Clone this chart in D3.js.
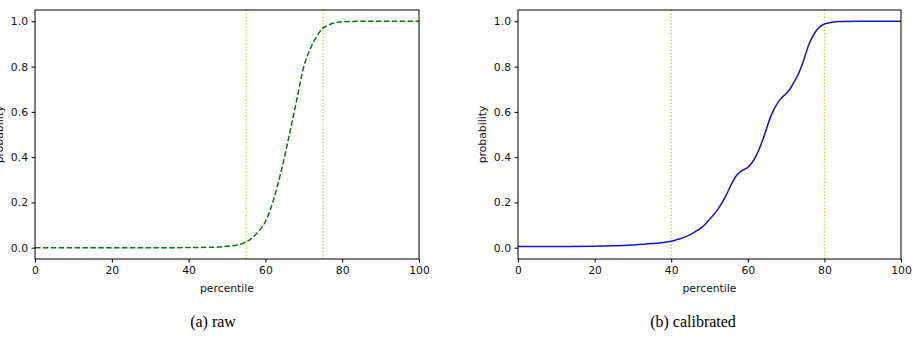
<!DOCTYPE html>
<html>
<head>
<meta charset="utf-8">
<script src="https://cdn.jsdelivr.net/npm/d3@7"></script>
<style>
body{margin:0;background:#fff;}
svg{display:block;}
.tick text{font-family:"DejaVu Sans";font-size:10.8px;fill:#111;}
.lbl{font-family:"DejaVu Sans";font-size:10.8px;fill:#111;}
.cap{font-family:"Liberation Serif";font-size:16px;fill:#000;}
</style>
</head>
<body>
<svg id="fig" width="914" height="340"></svg>
<script>
// raw scores (green dashed)
var rawX=[0,10,20,30,40,45,48,50,52,54,55,56,57,58,60,62,64,66,68,70,72,74,75,76,78,80,85,90,100]
var rawY=[0,0,0,0,0.0005,0.0015,0.003,0.006,0.01,0.018,0.026,0.036,0.05,0.068,0.115,0.205,0.33,0.48,0.64,0.80,0.89,0.95,0.97,0.98,0.993,0.998,1,1,1]
// calibrated scores (blue)
var calX=[0,10,20,25,30,35,40,42,44,46,48,50,52,54,56,57,58,59,60,62,64,66,68,69,70,71,72,73,74,75,76,77,78,79,80,82,84,90,100]
var calY=[0.005,0.005,0.006,0.008,0.012,0.018,0.028,0.038,0.05,0.068,0.09,0.125,0.165,0.22,0.29,0.318,0.335,0.345,0.355,0.40,0.48,0.58,0.645,0.665,0.68,0.70,0.73,0.76,0.80,0.85,0.90,0.935,0.962,0.978,0.988,0.996,0.999,1,1]
var rawCut=[55,75]
var calCut=[40,80]
var xTicks=[0,20,40,60,80,100]
var yTicks=[0,0.2,0.4,0.6,0.8,1.0]
var captions=['(a) raw','(b) calibrated']

var svg=d3.select('#fig')

function panel(conf){
    var g=svg.append('g')
    var x=d3.scaleLinear().domain([0,100]).range([conf.left,conf.right])
    var y=d3.scaleLinear().domain([-0.05,1.05]).range([conf.bottom,conf.top])
    // cut-off lines
    g.selectAll('line.cut')
        .data(conf.cuts)
        .join('line')
        .attr('class','cut')
        .attr('x1',d=>x(d)).attr('x2',d=>x(d))
        .attr('y1',conf.top).attr('y2',conf.bottom)
        .attr('stroke','#c8c820')
        .attr('stroke-width',1.3)
        .attr('stroke-dasharray','1.3,2')
    var pts=conf.xs.map((v,i)=>[v,conf.ys[i]])
    var line=d3.line().x(d=>x(d[0])).y(d=>y(d[1])).curve(d3.curveMonotoneX)
    g.append('path')
        .attr('d',line(pts))
        .attr('fill','none')
        .attr('stroke',conf.color)
        .attr('stroke-width',1.5)
        .attr('stroke-dasharray',conf.dash)
    // frame
    g.append('rect')
        .attr('x',conf.left).attr('y',conf.top)
        .attr('width',conf.right-conf.left).attr('height',conf.bottom-conf.top)
        .attr('fill','none').attr('stroke','#000').attr('stroke-width',1)
    var xa=g.append('g').attr('transform',`translate(0,${conf.bottom})`)
        .call(d3.axisBottom(x).tickValues(xTicks).tickSize(3.5).tickPadding(3.5).tickFormat(d3.format('d')))
    var ya=g.append('g').attr('transform',`translate(${conf.left},0)`)
        .call(d3.axisLeft(y).tickValues(yTicks).tickSize(3.5).tickPadding(3.5).tickFormat(d3.format('.1f')))
    ;[xa,ya].forEach(a=>{
        a.select('.domain').remove()
        a.selectAll('line').attr('stroke','#000')
    })
    g.append('text').attr('class','lbl')
        .attr('x',(conf.left+conf.right)/2).attr('y',conf.bottom+33)
        .attr('text-anchor','middle').text('percentile')
    g.append('text').attr('class','lbl')
        .attr('transform',`translate(${conf.left-32},${(conf.top+conf.bottom)/2}) rotate(-90)`)
        .attr('text-anchor','middle').text('probability')
    g.append('text').attr('class','cap')
        .attr('x',conf.capX).attr('y',327)
        .attr('text-anchor','middle').text(conf.caption)
}

panel({left:35,right:419,top:10,bottom:259,xs:rawX,ys:rawY,cuts:rawCut,color:'#008000',dash:'5.5,2.4',caption:captions[0],capX:213})
panel({left:518,right:901,top:10,bottom:259,xs:calX,ys:calY,cuts:calCut,color:'#1212d0',dash:null,caption:captions[1],capX:693})
</script>
</body>
</html>
